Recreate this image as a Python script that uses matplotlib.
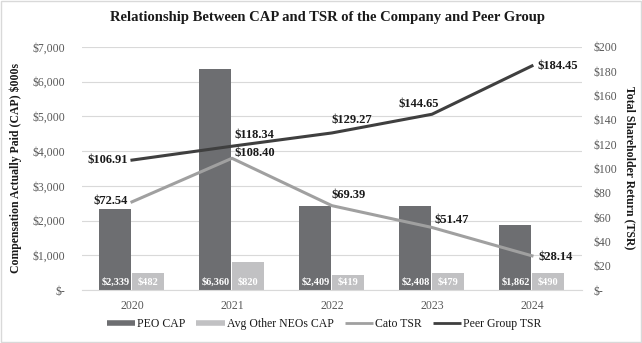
import matplotlib.pyplot as plt
from matplotlib.lines import Line2D
from matplotlib.patches import Rectangle
import numpy as np

years = ['2020', '2021', '2022', '2023', '2024']
peo_cap = [2339, 6360, 2409, 2408, 1862]
avg_neo_cap = [482, 820, 419, 479, 490]
cato_tsr = [72.54, 108.40, 69.39, 51.47, 28.14]
peer_tsr = [106.91, 118.34, 129.27, 144.65, 184.45]

left_ticks = [0, 1000, 2000, 3000, 4000, 5000, 6000, 7000]
left_ticklabels = ['$-', '$1,000', '$2,000', '$3,000', '$4,000', '$5,000', '$6,000', '$7,000']
right_ticks = list(range(0, 201, 20))
right_ticklabels = ['$-'] + ['$%d' % v for v in right_ticks[1:]]

plt.rcParams['font.family'] = ['Liberation Serif', 'DejaVu Serif']

c_peo = '#6d6e71'
c_neo = '#c1c1c3'
c_cato = '#a0a0a0'
c_peer = '#3f3f3f'
c_tick = '#595959'

fig = plt.figure(figsize=(6.42, 3.43), dpi=100)
ax = fig.add_axes([0.1277, 0.1545, 0.7788, 0.7085])
ax2 = ax.twinx()

x = np.arange(len(years))
w = 0.32
b1 = ax.bar(x - 0.165, peo_cap, w, color=c_peo, zorder=2)
b2 = ax.bar(x + 0.165, avg_neo_cap, w, color=c_neo, zorder=2)

# values written inside the bars, near the base
for bars, vals in ((b1, peo_cap), (b2, avg_neo_cap)):
    for rect, v in zip(bars, vals):
        ax.annotate('${:,}'.format(v), (rect.get_x() + rect.get_width() / 2, 0),
                    xytext=(0, 8), textcoords='offset pixels', ha='center', va='center',
                    color='white', fontsize=7.5, fontweight='bold', zorder=3)

ax.set_xlim(-0.5, 4.5)
ax.set_ylim(0, 7000)
ax.set_yticks(left_ticks)
ax.set_yticklabels(left_ticklabels)
ax.set_xticks(x)
ax.set_xticklabels(years)
ax.grid(axis='y', color='#d9d9d9', lw=0.8, zorder=0)
ax.set_axisbelow(True)
for s in ['top', 'right', 'left']:
    ax.spines[s].set_visible(False)
ax.spines['bottom'].set_color('#d9d9d9')
ax.tick_params(axis='both', length=0, labelsize=8.5, labelcolor=c_tick)
ax.tick_params(axis='y', pad=12)
ax.tick_params(axis='x', pad=7)

ax2.plot(x, cato_tsr, color=c_cato, lw=2.2, zorder=4)
ax2.plot(x, peer_tsr, color=c_peer, lw=2.2, zorder=4)
ax2.set_ylim(0, 200)
ax2.set_yticks(right_ticks)
ax2.set_yticklabels(right_ticklabels)
for s in ax2.spines.values():
    s.set_visible(False)
ax2.tick_params(axis='y', length=0, labelsize=8.5, labelcolor=c_tick, pad=8)

# label placement: (dx, dy, ha) in pixels
cato_pos = [(-4, 1, 'right'), (3, 5, 'left'), (0, 11, 'left'), (3, 7, 'left'), (7, -1, 'left')]
peer_pos = [(-4, 0, 'right'), (3, 11, 'left'), (0, 13, 'left'), (7, 10, 'right'), (6, 0, 'left')]
for vals, pos in ((cato_tsr, cato_pos), (peer_tsr, peer_pos)):
    for xi, v, (dx, dy, ha) in zip(x, vals, pos):
        ax2.annotate('${:.2f}'.format(v), (xi, v), xytext=(dx, dy), textcoords='offset pixels',
                     ha=ha, va='center', fontsize=9, fontweight='bold', color='#1a1a1a', zorder=5)

fig.text(0.51, 0.948, 'Relationship Between CAP and TSR of the Company and Peer Group',
         ha='center', va='center', fontsize=10.5, fontweight='bold', color='#1a1a1a')
fig.text(0.025, 0.51, 'Compensation Actually Paid (CAP) $000s', rotation=90,
         ha='center', va='center', fontsize=8.5, fontweight='bold', color='#1a1a1a')
fig.text(0.981, 0.51, 'Total Shareholder Return (TSR)', rotation=270,
         ha='center', va='center', fontsize=8.5, fontweight='bold', color='#1a1a1a')

handles = [Line2D([], [], color=c_peo, lw=4, solid_capstyle='butt'),
           Line2D([], [], color=c_neo, lw=4, solid_capstyle='butt'),
           Line2D([], [], color=c_cato, lw=2, solid_capstyle='butt'),
           Line2D([], [], color=c_peer, lw=2, solid_capstyle='butt')]
fig.legend(handles, ['PEO CAP', 'Avg Other NEOs CAP', 'Cato TSR', 'Peer Group TSR'],
           loc='center', bbox_to_anchor=(0.505, 0.055), ncol=4, frameon=False,
           fontsize=8.5, handlelength=2.4, handletextpad=0.2, columnspacing=0.9,
           labelcolor='#1a1a1a')

fig.patches.append(Rectangle((0.001, 0.002), 0.997, 0.995, transform=fig.transFigure,
                             fill=False, edgecolor='#d9d9d9', lw=1))

fig.savefig('out.png', dpi=100)
